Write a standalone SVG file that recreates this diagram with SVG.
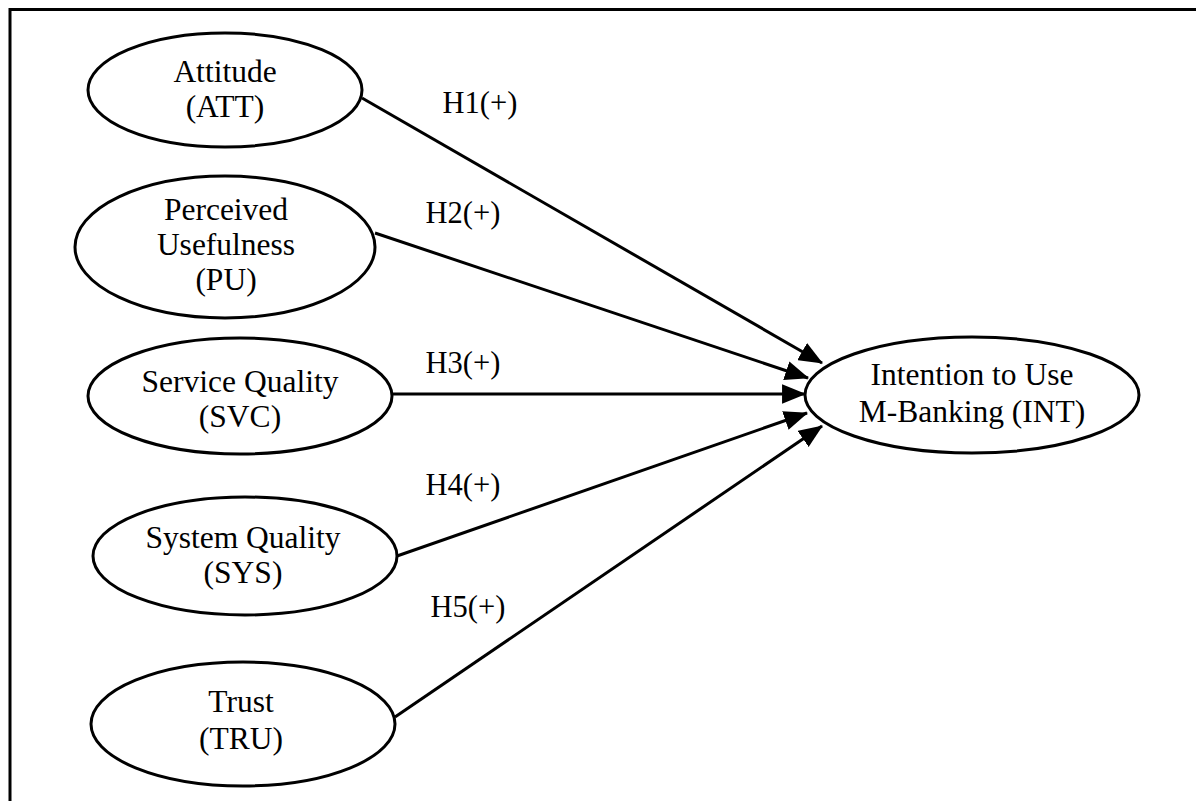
<svg xmlns="http://www.w3.org/2000/svg" width="1196" height="801" viewBox="0 0 1196 801">
<style>
.n{fill:#fff;stroke:#000;stroke-width:3}
.t{font-family:"Liberation Serif","Times New Roman",serif;font-size:31.5px;fill:#000;text-anchor:middle}
.h{font-family:"Liberation Serif","Times New Roman",serif;font-size:30.5px;fill:#000;text-anchor:middle}
.c{stroke:#000;stroke-width:3;fill:none;marker-end:url(#ah)}
</style>
<defs>
<marker id="ah" markerUnits="userSpaceOnUse" markerWidth="24" markerHeight="20" viewBox="0 0 22 18" refX="21" refY="9" orient="auto">
<path d="M0,0 L22,9 L0,18 Z" fill="#000"/>
</marker>
</defs>
<rect width="1196" height="801" fill="#fff"/>
<rect x="10" y="9.5" width="1210" height="820" fill="none" stroke="#000" stroke-width="3"/>
<g id="connectors">
<line class="c" x1="362" y1="98" x2="822" y2="363"/>
<line class="c" x1="375" y1="233" x2="808" y2="378"/>
<line class="c" x1="392" y1="394" x2="805" y2="394"/>
<line class="c" x1="397" y1="556" x2="807" y2="413"/>
<line class="c" x1="395" y1="717" x2="822" y2="426"/>
<text class="h" x="480" y="113">H1(+)</text>
<text class="h" x="463" y="223">H2(+)</text>
<text class="h" x="463" y="373">H3(+)</text>
<text class="h" x="463" y="495">H4(+)</text>
<text class="h" x="468" y="617">H5(+)</text>
</g>
<g id="ATT">
<ellipse class="n" cx="225" cy="90" rx="137" ry="57"/>
<text class="t" x="225" y="82">Attitude</text>
<text class="t" x="225" y="117">(ATT)</text>
</g>
<g id="PU">
<ellipse class="n" cx="225" cy="247" rx="150" ry="71"/>
<text class="t" x="226" y="220">Perceived</text>
<text class="t" x="226" y="255">Usefulness</text>
<text class="t" x="226" y="290">(PU)</text>
</g>
<g id="SVC">
<ellipse class="n" cx="240" cy="396" rx="152" ry="58"/>
<text class="t" x="240" y="392">Service Quality</text>
<text class="t" x="240" y="427">(SVC)</text>
</g>
<g id="SYS">
<ellipse class="n" cx="245" cy="556" rx="152" ry="59"/>
<text class="t" x="243" y="548">System Quality</text>
<text class="t" x="243" y="583">(SYS)</text>
</g>
<g id="TRU">
<ellipse class="n" cx="243" cy="724" rx="152" ry="62"/>
<text class="t" x="241" y="712">Trust</text>
<text class="t" x="241" y="749">(TRU)</text>
</g>
<g id="INT">
<ellipse class="n" cx="972" cy="395" rx="167" ry="58"/>
<text class="t" x="972" y="385">Intention to Use</text>
<text class="t" x="972" y="422">M-Banking (INT)</text>
</g>
</svg>
